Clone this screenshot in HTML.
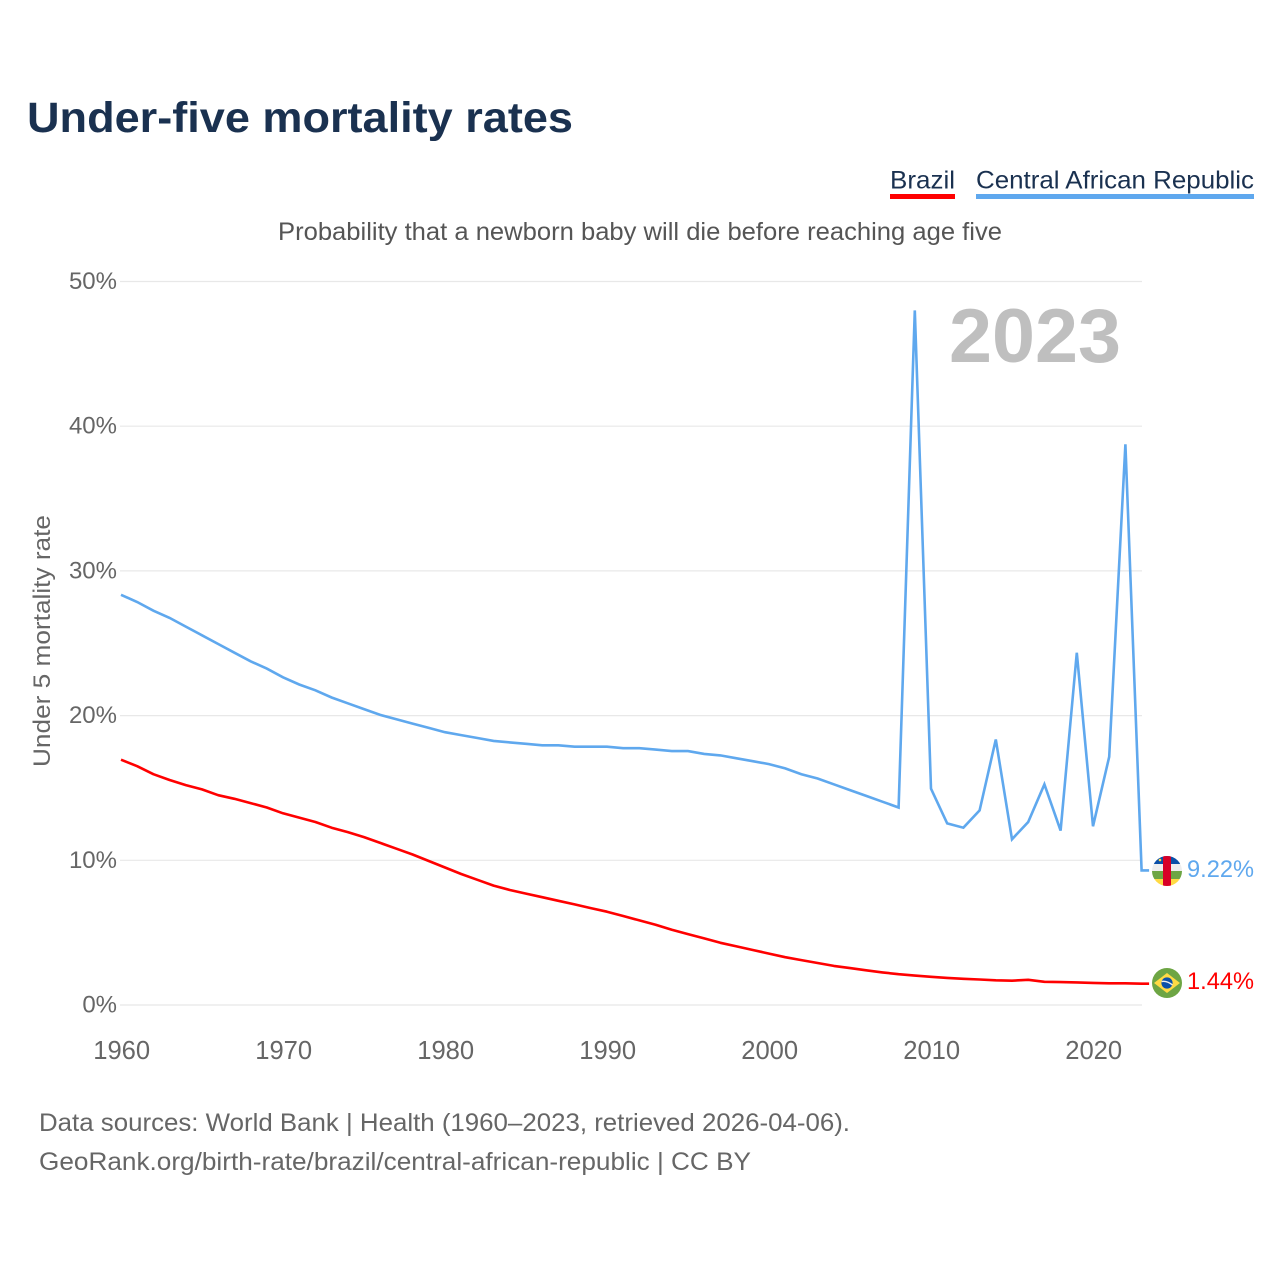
<!DOCTYPE html>
<html lang="en">
<head>
<meta charset="utf-8">
<title>Under-five mortality rates</title>
<style>
html,body{margin:0;padding:0;background:#fff}
svg{display:block}
text{font-family:"Liberation Sans",sans-serif}
</style>
</head>
<body>
<svg id="chart" width="1280" height="1280" viewBox="0 0 1280 1280" xmlns="http://www.w3.org/2000/svg">
  <text x="27" y="132" font-size="43" font-weight="700" fill="#1a3150" textLength="546" lengthAdjust="spacingAndGlyphs">Under-five mortality rates</text>

  <g>
    <g>
      <text x="890" y="188.5" font-size="25" fill="#1a3150" textLength="65" lengthAdjust="spacingAndGlyphs">Brazil</text>
      <rect x="890" y="194" width="65" height="5" fill="#ff0000"/>
    </g>
    <g>
      <text x="976" y="188.5" font-size="25" fill="#1a3150" textLength="278" lengthAdjust="spacingAndGlyphs">Central African Republic</text>
      <rect x="976" y="194" width="278" height="5" fill="#5fa8ee"/>
    </g>
  </g>

  <text x="278" y="240" font-size="25" fill="#555555" textLength="724" lengthAdjust="spacingAndGlyphs">Probability that a newborn baby will die before reaching age five</text>

  <g id="grid"></g>
  <g id="yticks"></g>
  <g id="xticks"></g>

  <text x="949" y="362" font-size="76" font-weight="700" fill="#bfbfbf" textLength="172" lengthAdjust="spacingAndGlyphs">2023</text>

  <text transform="translate(50,767) rotate(-90)" x="0" y="0" font-size="24" fill="#666666" textLength="252" lengthAdjust="spacingAndGlyphs">Under 5 mortality rate</text>

  <g id="series"></g>

  <g id="flag-car">
    <clipPath id="clip-car"><circle cx="1167" cy="871" r="15"/></clipPath>
    <g clip-path="url(#clip-car)">
      <rect x="1152" y="856" width="30" height="8" fill="#0b50a8"/>
      <rect x="1152" y="864" width="30" height="7" fill="#eeeeee"/>
      <rect x="1152" y="871" width="30" height="8" fill="#6da544"/>
      <rect x="1152" y="879" width="30" height="7" fill="#ffda44"/>
      <rect x="1163" y="856" width="8" height="30" fill="#d80027"/>
      <circle cx="1160" cy="860" r="1.3" fill="#ffda44"/>
    </g>
  </g>
  <g id="flag-brazil">
    <circle cx="1167" cy="983" r="15" fill="#6da544"/>
    <polygon points="1167,973 1180,983 1167,993 1154,983" fill="#ffda44"/>
    <circle cx="1167" cy="983" r="5.6" fill="#0b50a8"/>
    <path d="M1161.6 981.5 Q1167 980.5 1172.4 985" stroke="#eeeeee" stroke-width="1.4" fill="none"/>
  </g>

  <text id="end-car" x="1187" y="877" font-size="24.5" fill="#5fa8ee" textLength="67" lengthAdjust="spacingAndGlyphs">9.22%</text>
  <text id="end-brazil" x="1187" y="989" font-size="24.5" fill="#ff0000" textLength="67" lengthAdjust="spacingAndGlyphs">1.44%</text>

  <g>
    <text x="39" y="1131" font-size="25" fill="#666666" textLength="811" lengthAdjust="spacingAndGlyphs">Data sources: World Bank | Health (1960–2023, retrieved 2026-04-06).</text>
    <text x="39" y="1170" font-size="25" fill="#666666" textLength="712" lengthAdjust="spacingAndGlyphs">GeoRank.org/birth-rate/brazil/central-african-republic | CC BY</text>
  </g>
</svg>
<script>
var years = [1960,1961,1962,1963,1964,1965,1966,1967,1968,1969,1970,1971,1972,1973,1974,1975,1976,1977,1978,1979,1980,1981,1982,1983,1984,1985,1986,1987,1988,1989,1990,1991,1992,1993,1994,1995,1996,1997,1998,1999,2000,2001,2002,2003,2004,2005,2006,2007,2008,2009,2010,2011,2012,2013,2014,2015,2016,2017,2018,2019,2020,2021,2022,2023];
var brazilValues = [16.95,16.5,15.95,15.55,15.2,14.9,14.5,14.25,13.95,13.65,13.25,12.95,12.65,12.25,11.95,11.6,11.2,10.8,10.4,9.95,9.5,9.05,8.65,8.25,7.95,7.7,7.45,7.2,6.95,6.7,6.45,6.15,5.85,5.55,5.2,4.9,4.6,4.3,4.05,3.8,3.55,3.3,3.1,2.9,2.7,2.55,2.4,2.25,2.13,2.03,1.95,1.87,1.81,1.76,1.71,1.68,1.74,1.6,1.58,1.56,1.53,1.5,1.5,1.47];
var carValues = [28.35,27.85,27.25,26.75,26.15,25.55,24.95,24.35,23.75,23.25,22.65,22.15,21.75,21.25,20.85,20.45,20.05,19.75,19.45,19.15,18.85,18.65,18.45,18.25,18.15,18.05,17.95,17.95,17.85,17.85,17.85,17.75,17.75,17.65,17.55,17.55,17.35,17.25,17.05,16.85,16.65,16.35,15.95,15.65,15.25,14.85,14.45,14.05,13.65,48.0,14.95,12.55,12.25,13.45,18.35,11.45,12.65,15.25,12.05,24.35,12.35,17.15,38.75,9.3];
var yTickValues = [0,10,20,30,40,50];
var xTickValues = [1960,1970,1980,1990,2000,2010,2020];

var NS = 'http://www.w3.org/2000/svg';
function xScale(year) { return 121 + (year - 1960) * 16.2; }
function yScale(value) { return 1005 - value * 14.47; }

var gridGroup = document.getElementById('grid');
var yTickGroup = document.getElementById('yticks');
var xTickGroup = document.getElementById('xticks');
var seriesGroup = document.getElementById('series');

yTickValues.forEach(function (tick) {
  var line = document.createElementNS(NS, 'line');
  
  
  line.setAttribute('x1', 120);
  line.setAttribute('x2', 1142);
  line.setAttribute('y1', yScale(tick));
  line.setAttribute('y2', yScale(tick));
  line.setAttribute('stroke', '#e8e8e8');
  line.setAttribute('stroke-width', 1.2);
  gridGroup.appendChild(line);

  var label = document.createElementNS(NS, 'text');
  
  
  label.setAttribute('x', 117);
  label.setAttribute('y', yScale(tick) + 7.5);
  label.setAttribute('text-anchor', 'end');
  label.setAttribute('font-size', 24);
  label.setAttribute('fill', '#666666');
  label.textContent = tick + '%';
  yTickGroup.appendChild(label);
});

xTickValues.forEach(function (tick) {
  var label = document.createElementNS(NS, 'text');
  
  
  label.setAttribute('x', xScale(tick) + 0.7);
  label.setAttribute('y', 1059);
  label.setAttribute('text-anchor', 'middle');
  label.setAttribute('font-size', 25.6);
  label.setAttribute('fill', '#666666');
  label.textContent = tick;
  xTickGroup.appendChild(label);
});

function linePoints(values) {
  var pts = values.map(function (v, i) {
    return xScale(years[i]).toFixed(1) + ',' + yScale(v).toFixed(1);
  });
  var last = values[values.length - 1];
  pts.push((xScale(years[years.length - 1]) + 7.5).toFixed(1) + ',' + yScale(last).toFixed(1));
  return pts.join(' ');
}

var carLine = document.createElementNS(NS, 'polyline');


carLine.setAttribute('points', linePoints(carValues));
carLine.setAttribute('fill', 'none');
carLine.setAttribute('stroke', '#5fa8ee');
carLine.setAttribute('stroke-width', 2.6);
carLine.setAttribute('stroke-linejoin', 'miter');
seriesGroup.appendChild(carLine);

var brazilLine = document.createElementNS(NS, 'polyline');


brazilLine.setAttribute('points', linePoints(brazilValues));
brazilLine.setAttribute('fill', 'none');
brazilLine.setAttribute('stroke', '#ff0000');
brazilLine.setAttribute('stroke-width', 2.6);
brazilLine.setAttribute('stroke-linejoin', 'round');
seriesGroup.appendChild(brazilLine);
</script>
</body>
</html>
